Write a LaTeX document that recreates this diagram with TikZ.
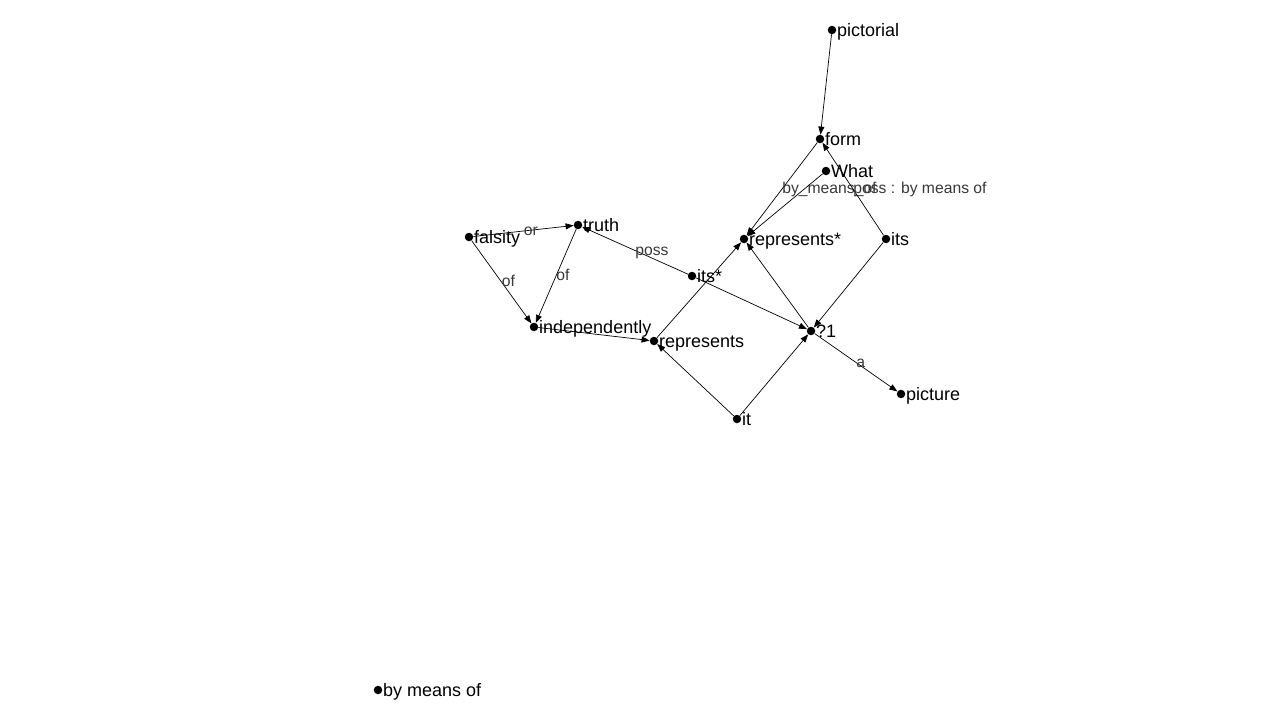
\documentclass[tikz,border=0pt]{standalone}
\usepackage{fontspec}
\setmainfont{Liberation Sans}
\usetikzlibrary{arrows.meta}
\begin{document}
\begin{tikzpicture}[x=1pt,y=-1pt,
  dot/.style={circle,fill=black,inner sep=0pt,minimum size=8.5pt},
  nlbl/.style={anchor=base west,inner sep=0pt,font=\fontsize{18}{20}\selectfont},
  elbl/.style={anchor=base west,inner sep=0pt,yshift=-4.5pt,text=black!78,
    font=\fontsize{15.7}{18}\selectfont},
  edge/.style={line width=0.7pt,-{Triangle[length=8pt,width=6pt]}}]
\useasboundingbox (0,0) rectangle (1280,720);

% concept nodes
\node[dot] (pictorial) at (832,30) {};
\node[dot] (form) at (820,139) {};
\node[dot] (What) at (826,171) {};
\node[dot] (repstar) at (744,239) {};
\node[dot] (its) at (886,239) {};
\node[dot] (truth) at (578,225) {};
\node[dot] (falsity) at (469,237) {};
\node[dot] (itsstar) at (692,276) {};
\node[dot] (indep) at (534,327) {};
\node[dot] (represents) at (654,341) {};
\node[dot] (q1) at (811,331) {};
\node[dot] (picture) at (901,394) {};
\node[dot] (it) at (737,419) {};
\node[dot] (bymeans) at (378,690) {};

% node labels
\node[nlbl] (pictorial-t) at (837,36) {pictorial};
\node[nlbl] (form-t) at (825,145) {form};
\node[nlbl] (What-t) at (831,177) {What};
\node[nlbl] (repstar-t) at (749,245) {represents*};
\node[nlbl] (its-t) at (891,245) {its};
\node[nlbl] (truth-t) at (583,231) {truth};
\node[nlbl] (falsity-t) at (474,243) {falsity};
\node[nlbl] (itsstar-t) at (697,282) {its*};
\node[nlbl] (indep-t) at (539,333) {independently};
\node[nlbl] (represents-t) at (659,347) {represents};
\node[nlbl] (q1-t) at (816,337) {?1};
\node[nlbl] (picture-t) at (906,400) {picture};
\node[nlbl] (it-t) at (742,425) {it};
\node[nlbl] (bymeans-t) at (383,696) {by means of};

% relations
\draw[edge] (pictorial) -- (form);
\draw[edge] (form) -- node[elbl,pos=0.5] {by\_means\_of} (repstar);
\draw[edge] (What) -- (repstar);
\draw[edge] (its) -- node[elbl,pos=0.5] {poss : by means of} (form);
\draw[edge] (its) -- (q1);
\draw[edge] (q1) -- (repstar);
\draw[edge] (represents) -- (repstar);
\draw[edge] (itsstar) -- (q1);
\draw[edge] (itsstar) -- node[elbl,pos=0.5] {poss} (truth);
\draw[edge] (falsity) -- node[elbl,pos=0.5] {or} (truth);
\draw[edge] (falsity) -- node[elbl,pos=0.5] {of} (indep);
\draw[edge] (truth) -- node[elbl,pos=0.5] {of} (indep);
\draw[edge] (indep) -- (represents);
\draw[edge] (it) -- (represents);
\draw[edge] (it) -- (q1);
\draw[edge] (q1) -- node[elbl,pos=0.5] {a} (picture);
\end{tikzpicture}
\end{document}
